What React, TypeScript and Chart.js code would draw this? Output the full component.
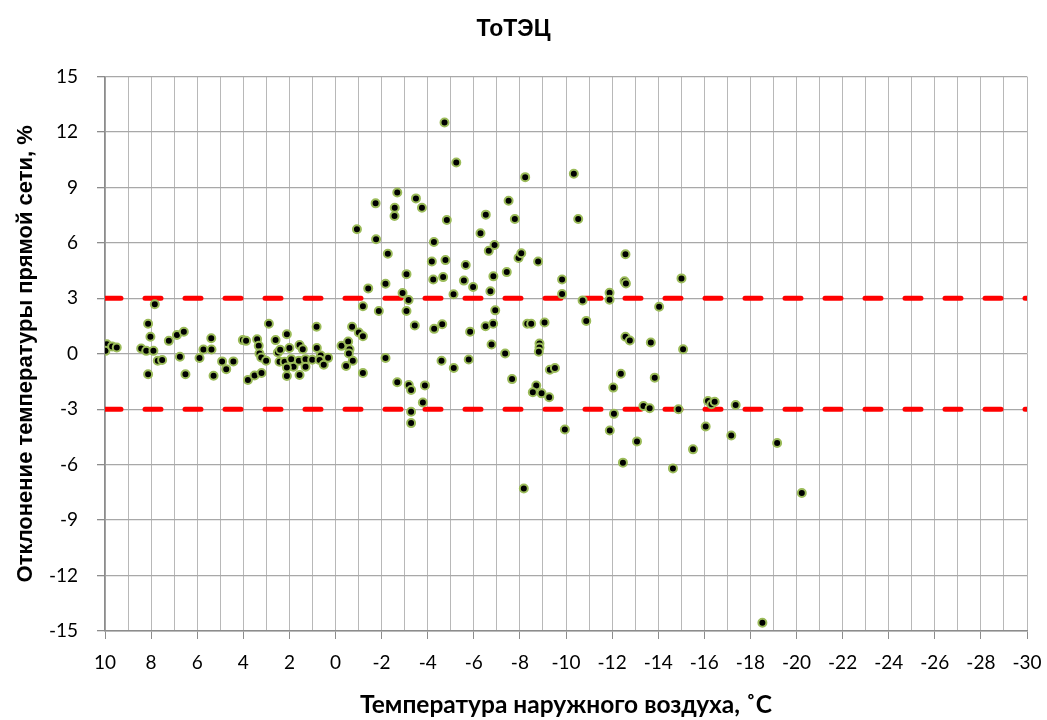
import React, { useEffect, useRef } from "react";
import { Chart, registerables } from "chart.js";

Chart.register(...registerables);

const chartTitle = "ТоТЭЦ";
const xAxisTitle = "Температура наружного воздуха, ˚С";
const yAxisTitle = "Отклонение температуры прямой сети, %";

const xLabelTicks = [10, 8, 6, 4, 2, 0, -2, -4, -6, -8, -10, -12, -14, -16, -18, -20, -22, -24, -26, -28, -30];
const yTicks = [15, 12, 9, 6, 3, 0, -3, -6, -9, -12, -15];

const upperLimit = 3;
const lowerLimit = -3;

// Outdoor air temperature, °C
const outdoorTemp = [
  9.92, 9.98, 9.69, 9.49, 7.84, 8.13, 8.03, 8.43, 8.21, 7.9, 8.13, 7.71, 7.52,
  7.23, 6.88, 6.58, 6.75, 6.51, 5.9, 5.73, 5.39, 5.38, 5.29, 4.92, 4.74, 4.43,
  4.02, 3.88, 3.8, 3.51, 3.21, 3.4, 3.33, 3.3, 3.22, 3.01, 2.89, 2.6, 2.5, 2.4,
  2.43, 2.21, 2.11, 2.0, 1.92, 1.82, 2.11, 2.11, 1.56, 1.42, 1.59, 1.3, 1.3,
  1.56, 1.01, 0.82, 0.81, 0.64, 0.69, 0.51, 0.32, -0.26, -0.55, -0.61, -0.58,
  -0.75, -0.46, -0.72, -1.01, -1.19, -1.19, -1.42, -1.19, -1.88, -2.17, -2.17,
  -2.27, -1.74, -0.93, -1.76, -4.73, -5.24, -8.23, -10.34, -2.68, -2.57, -2.56,
  -3.49, -3.75, -4.83, -7.51, -7.78, -6.52, -10.53, -4.27, -6.29, -4.18, -4.77,
  -4.24, -4.67, -3.08, -2.91, -3.17, -3.08, -3.44, -4.28, -4.63, -5.12, -5.65,
  -5.57, -5.97, -5.84, -6.51, -6.84, -6.93, -6.72, -6.85, -6.65, -6.9, -7.43,
  -7.94, -8.06, -8.79, -6.77, -8.32, -8.49, -9.07, -9.83, -9.83, -10.72, -10.88,
  -11.89, -11.89, -12.58, -12.54, -12.6, -12.58, -12.77, -2.68, -3.18, -3.28,
  -3.88, -3.79, -3.28, -3.28, -4.6, -5.13, -5.78, -7.36, -7.66, -8.17, -8.85,
  -8.85, -8.82, -9.3, -9.52, -8.71, -8.56, -8.94, -9.27, -9.95, -12.05, -12.38,
  -12.08, -11.9, -12.47, -15.01, -14.04, -13.68, -15.08, -13.85, -13.08, -13.36,
  -13.63, -14.88, -14.64, -15.51, -16.06, -16.16, -16.31, -16.45, -17.17, -17.36,
  -18.52, -19.16, -20.23,
];

// Deviation of supply-line temperature, %
const deviation = [
  0.52, 0.16, 0.4, 0.34, 2.68, 1.63, 0.92, 0.29, 0.16, 0.16, -1.11, -0.38, -0.34,
  0.7, 1.02, 1.19, -0.16, -1.11, -0.23, 0.23, 0.84, 0.23, -1.19, -0.41, -0.83, -0.41,
  0.74, 0.7, -1.42, -1.17, -1.04, 0.79, 0.43, 0.02, -0.2, -0.38, 1.63, 0.74, 0.07, 0.22,
  -0.43, -0.43, 1.06, 0.31, -0.29, -0.7, -0.74, -1.2, 0.47, 0.25, -0.38, -0.29, -0.7,
  -1.15, -0.32, 1.46, 0.31, -0.09, -0.34, -0.59, -0.22, 0.43, 0.66, 0.25, 0.02,
  -0.38, -0.66, 1.46, 1.15, 0.95, -1.04, 3.54, 2.57, 2.32, 3.79, -0.23,
  5.41, 8.14, 6.74, 6.2, 12.52, 10.35, 9.56, 9.74, 8.73, 7.9, 7.46,
  8.41, 7.9, 7.24, 8.28, 7.29, 7.53, 7.29, 6.05, 6.52, 4.99, 5.07,
  4.02, 4.15, 4.31, 3.29, 2.91, 2.32, 1.53, 1.35, 1.6, 3.22, 4.81,
  3.96, 3.61, 1.19, 1.49, 1.63, 2.35, 3.38, 4.19, 5.57, 5.89, 4.42,
  5.19, 5.44, 4.99, 0.5, 1.63, 1.63, 1.69, 4.02, 3.23, 2.89, 1.78,
  3.3, 2.93, 5.39, 3.92, 3.8, 0.92, 0.72, -1.54, -1.69, -1.96,
  -1.71, -2.64, -3.14, -3.75, -0.38, -0.77, -0.31, 0.02, -1.37, -7.29, 0.56,
  0.34, 0.11, -0.86, -0.77, -1.72, -2.08, -2.14, -2.35, -4.1, -1.83, -1.08,
  -3.25, -4.15, -5.89, 4.08, 2.55, 0.61, 0.25, -1.29, -4.74, -2.82,
  -2.95, -3.0, -6.2, -5.17, -3.93, -2.55, -2.73, -2.59, -4.42, -2.77,
  -14.55, -4.83, -7.53,
];

const xMax = xLabelTicks[0];
const xMin = xLabelTicks[xLabelTicks.length - 1];
const yMax = yTicks[0];
const yMin = yTicks[yTicks.length - 1];

export default function App() {
  const canvasRef = useRef<HTMLCanvasElement | null>(null);

  useEffect(() => {
    if (!canvasRef.current) return;
    const points = outdoorTemp.map((x, i) => ({ x, y: deviation[i] }));
    const limitLine = (y: number) => ({
      type: "line" as const,
      data: [
        { x: xMax, y },
        { x: xMin, y },
      ],
      borderColor: "#FF0000",
      borderWidth: 5,
      borderDash: [16, 24],
      borderCapStyle: "round" as const,
      pointRadius: 0,
      showLine: true,
      fill: false,
      order: 2,
    });

    const chart = new Chart(canvasRef.current, {
      type: "scatter",
      data: {
        datasets: [
          {
            type: "scatter",
            data: points,
            pointRadius: 4,
            pointHoverRadius: 4,
            pointBorderWidth: 2,
            backgroundColor: "#000000",
            borderColor: "#9BBB59",
            order: 1,
          } as any,
          limitLine(upperLimit) as any,
          limitLine(lowerLimit) as any,
        ],
      },
      options: {
        animation: false,
        responsive: true,
        maintainAspectRatio: false,
        layout: { padding: { left: 0, right: 20, top: 0, bottom: 0 } },
        plugins: {
          legend: { display: false },
          tooltip: { enabled: false },
          title: {
            display: true,
            text: chartTitle,
            color: "#000000",
            font: { family: "Liberation Sans", size: 23, weight: "bold" },
            padding: { top: 16, bottom: 33 },
          },
        },
        scales: {
          x: {
            type: "linear",
            reverse: true,
            min: xMin,
            max: xMax,
            afterFit: (scale: any) => {
              scale.height = 89;
              scale.paddingLeft = 0;
              scale.paddingRight = 0;
            },
            ticks: {
              stepSize: 1,
              autoSkip: false,
              maxRotation: 0,
              minRotation: 0,
              padding: 12,
              color: "#000000",
              font: { family: "Lato", size: 19 },
              callback: (v: any) => (xLabelTicks.includes(Number(v)) ? String(v) : ""),
            },
            grid: {
              color: "#B8B8B8",
              lineWidth: 1,
              tickLength: 8,
              tickColor: (ctx: any) =>
                ctx.tick && xLabelTicks.includes(ctx.tick.value) ? "#8C8C8C" : "rgba(0,0,0,0)",
            },
            border: { display: true, color: "#8C8C8C", width: 1.5 },
            title: {
              display: true,
              text: xAxisTitle,
              color: "#000000",
              font: { family: "Lato", size: 24.5, weight: "bold" },
              padding: { top: 0, bottom: 0 },
            },
          },
          y: {
            type: "linear",
            min: yMin,
            max: yMax,
            afterFit: (scale: any) => {
              scale.width = 105;
            },
            ticks: {
              stepSize: 3,
              padding: 19,
              color: "#000000",
              font: { family: "Lato", size: 19 },
              callback: (v: any) => String(v),
            },
            grid: {
              color: "#A8A8A8",
              lineWidth: 1.3,
              tickLength: 8,
              tickColor: "#8C8C8C",
            },
            border: { display: true, color: "#8C8C8C", width: 1.5 },
            title: {
              display: true,
              text: yAxisTitle,
              color: "#000000",
              font: { family: "Liberation Sans", size: 22, weight: "bold" },
              padding: { top: 13, bottom: 0 },
            },
          },
        },
      },
    });
    return () => chart.destroy();
  }, []);

  return (
    <div style={{ position: "fixed", left: 0, top: 0, width: 1047, height: 720, background: "#ffffff" }}>
      <canvas ref={canvasRef} />
    </div>
  );
}
